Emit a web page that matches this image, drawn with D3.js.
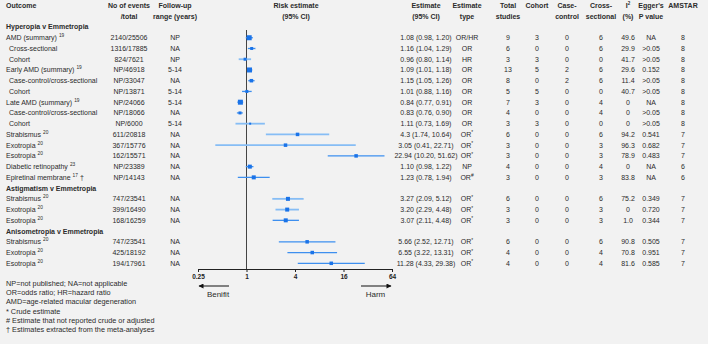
<!DOCTYPE html>
<html>
<head>
<meta charset="utf-8">
<script src="https://cdn.jsdelivr.net/npm/d3@7"></script>
<style>
  body { margin: 0; background: #f2f2f2; }
  svg { display: block; font-family: "Liberation Sans", Arial, sans-serif; }
</style>
</head>
<body>
<div id="chart"></div>
<script>
// group headings and which group each outcome row belongs to
var groups = ["Hyperopia v Emmetropia", "Astigmatism v Emmetropia", "Anisometropia v Emmetropia"];
var groupOf = [0,0,0,0,0,0,0,0,0,0,0,0,0,0, 1,1,1, 2,2,2];

var outcomes = ["AMD (summary)", "Cross-sectional", "Cohort", "Early AMD (summary)",
  "Case-control/cross-sectional", "Cohort", "Late AMD (summary)", "Case-control/cross-sectional",
  "Cohort", "Strabismus", "Exotropia", "Esotropia", "Diabetic retinopathy", "Epiretinal membrane",
  "Strabismus", "Exotropia", "Esotropia",
  "Strabismus", "Exotropia", "Esotropia"];
var refs = ["19", "", "", "19", "", "", "19", "", "", "20", "20", "20", "23", "17",
  "20", "20", "20", "20", "20", "20"];
var daggers = [0,0,0,0,0,0,0,0,0,0,0,0,0,1, 0,0,0, 0,0,0];
var subgroup = [0,1,1,0,1,1,0,1,1,0,0,0,0,0, 0,0,0, 0,0,0];

var events = ["2140/25506", "1316/17885", "824/7621", "NP/46918", "NP/33047", "NP/13871",
  "NP/24066", "NP/18066", "NP/6000", "611/20818", "367/15776", "162/15571", "NP/23389", "NP/14143",
  "747/23541", "399/16490", "168/16259",
  "747/23541", "425/18192", "194/17961"];
var followUp = ["NP", "NA", "NP", "5-14", "NA", "5-14", "5-14", "NA", "5-14", "NA", "NA", "NA", "NA", "NA",
  "NA", "NA", "NA", "NA", "NA", "NA"];

var estimate = ["1.08", "1.16", "0.96", "1.09", "1.15", "1.01", "0.84", "0.83", "1.11", "4.3", "3.05", "22.94", "1.10", "1.23",
  "3.27", "3.20", "3.07", "5.66", "6.55", "11.28"];
var lower = ["0.98", "1.04", "0.80", "1.01", "1.05", "0.88", "0.77", "0.76", "0.73", "1.74", "0.41", "10.20", "0.98", "0.78",
  "2.09", "2.29", "2.11", "2.52", "3.22", "4.33"];
var upper = ["1.20", "1.29", "1.14", "1.18", "1.26", "1.16", "0.91", "0.90", "1.69", "10.64", "22.71", "51.62", "1.22", "1.94",
  "5.12", "4.48", "4.48", "12.71", "13.31", "29.38"];
// relative weight of each estimate (marker size)
var weight = [5, 3, 3, 5, 3.5, 3, 5, 3, 2, 3.5, 3.5, 3.5, 4, 4, 4, 4, 4, 3.5, 3.5, 3.5];

var estType = ["OR/HR", "OR", "HR", "OR", "OR", "OR", "OR", "OR", "OR", "OR*", "OR*", "OR*", "NP", "OR#",
  "OR*", "OR*", "OR*", "OR*", "OR*", "OR*"];
var totalStudies = [9, 6, 3, 13, 8, 5, 7, 4, 3, 6, 3, 3, 4, 3, 6, 3, 3, 6, 4, 4];
var cohort = [3, 0, 3, 5, 0, 5, 3, 0, 3, 0, 0, 0, 0, 0, 0, 0, 0, 0, 0, 0];
var caseControl = [0, 0, 0, 2, 2, 0, 0, 0, 0, 0, 0, 0, 0, 0, 0, 0, 0, 0, 0, 0];
var crossSectional = [6, 6, 0, 6, 6, 0, 4, 4, 0, 6, 3, 3, 4, 3, 6, 3, 3, 6, 4, 4];
var i2 = ["49.6", "29.9", "41.7", "29.6", "11.4", "40.7", "0", "0", "0", "94.2", "96.3", "78.9", "0", "83.8",
  "75.2", "0", "1.0", "90.8", "70.8", "81.6"];
var egger = ["NA", ">0.05", ">0.05", "0.152", ">0.05", ">0.05", "NA", ">0.05", ">0.05", "0.541", "0.682", "0.483", "NA", "NA",
  "0.349", "0.720", "0.344", "0.505", "0.951", "0.585"];
var amstar = [8, 8, 8, 8, 8, 8, 8, 8, 8, 7, 7, 7, 6, 6, 7, 7, 7, 7, 7, 7];

var axisTicks = [0.25, 1, 4, 16, 64];

var footnotes = ["NP=not published; NA=not applicable", "OR=odds ratio; HR=hazard ratio",
  "AMD=age-related macular degeneration", "* Crude estimate",
  "# Estimate that not reported crude or adjusted", "\u2020 Estimates extracted from the meta-analyses"];

// ---- build row list (headings + outcomes)
var rows = [];
outcomes.forEach(function(o, i) {
  if (i == 0 || groupOf[i] != groupOf[i - 1]) rows.push({ heading: groups[groupOf[i]] });
  rows.push({ i: i });
});

var width = 708, height = 344;
var fs = 7;
var textColor = '#2b2b2b';
var blue = '#1a73e8';
var lightCI = [2, 8, 9, 10, 14, 15]; // rows drawn with a paler CI line

var svg = d3.select('#chart').append('svg')
  .attr('width', width)
  .attr('height', height);

svg.append('rect').attr('width', width).attr('height', height).attr('fill', '#f2f2f2');

var y = d3.scalePoint()
  .domain(d3.range(rows.length))
  .range([27, 263.3]);

var x = d3.scaleLog().base(2)
  .domain([0.25, 64])
  .range([198, 392]);

// column centres
var col = {
  events: 129, follow: 175, risk: 296, est: 426, type: 467, total: 508,
  cohort: 537, cc: 567, cross: 601, i2: 628, egger: 651, amstar: 683
};

// ---- headers
function header(lines, cx, anchor) {
  var t = svg.append('text')
    .attr('x', cx).attr('text-anchor', anchor || 'middle')
    .attr('font-size', fs).attr('font-weight', 'bold').attr('fill', textColor);
  lines.forEach(function(l, k) {
    t.append('tspan').attr('x', cx).attr('y', 6 + k * 10.7).attr('dy', '0.35em').text(l);
  });
  return t;
}
header(['Outcome'], 6, 'start');
header(['No of events', '/total'], col.events);
header(['Follow-up', 'range (years)'], col.follow);
header(['Risk estimate', '(95% CI)'], col.risk);
header(['Estimate', '(95% CI)'], col.est);
header(['Estimate', 'type'], col.type);
header(['Total', 'studies'], col.total);
header(['Cohort'], col.cohort);
header(['Case-', 'control'], col.cc);
header(['Cross-', 'sectional'], col.cross);
var ih = header(['', '(%)'], col.i2);
ih.select('tspan').append('tspan').text('I');
ih.select('tspan').append('tspan').attr('font-size', 4.5).attr('dy', -3).text('2');
header(["Egger's", 'P value'], col.egger);
header(['AMSTAR'], col.amstar);

// ---- row text
var g = svg.append('g').attr('font-size', fs).attr('fill', textColor);

rows.forEach(function(r, k) {
  var ry = y(k);
  if (r.heading) {
    g.append('text').attr('x', 6).attr('y', ry).attr('dy', '0.35em')
      .attr('font-weight', 'bold').text(r.heading);
    return;
  }
  var i = r.i;
  var t = g.append('text').attr('x', subgroup[i] ? 9 : 6).attr('y', ry).attr('dy', '0.35em');
  t.append('tspan').text(outcomes[i]);
  if (refs[i]) {
    t.append('tspan').attr('font-size', 4.8).attr('dx', 2).attr('dy', -3).text(refs[i]);
    t.append('tspan').attr('dy', 3).text(daggers[i] ? ' \u2020' : '');
  }

  function cell(cx, v) {
    return g.append('text').attr('x', cx).attr('y', ry).attr('dy', '0.35em')
      .attr('text-anchor', 'middle').text(v);
  }
  cell(col.events, events[i]);
  cell(col.follow, followUp[i]);
  cell(col.est, estimate[i] + ' (' + lower[i] + ', ' + upper[i] + ')');
  var et = estType[i];
  if (et.slice(-1) == '*' || et.slice(-1) == '#') {
    var tt = cell(col.type, '');
    tt.append('tspan').text(et.slice(0, -1));
    tt.append('tspan').attr('font-size', 4.8).attr('dy', -2.5).text(et.slice(-1));
  } else {
    cell(col.type, et);
  }
  cell(col.total, totalStudies[i]);
  cell(col.cohort, cohort[i]);
  cell(col.cc, caseControl[i]);
  cell(col.cross, crossSectional[i]);
  cell(col.i2, i2[i]);
  cell(col.egger, egger[i]);
  cell(col.amstar, amstar[i]);
});

// ---- forest plot
svg.append('line')
  .attr('x1', x(1)).attr('x2', x(1))
  .attr('y1', 30).attr('y2', 269)
  .attr('stroke', '#444').attr('stroke-width', 1);

var plotRows = rows.map(function(r, k) { return { i: r.i, k: k, heading: r.heading }; })
  .filter(function(r) { return !r.heading; });

svg.append('g').selectAll('line')
  .data(plotRows)
  .enter()
  .append('line')
  .attr('x1', function(d) { return x(+lower[d.i]); })
  .attr('x2', function(d) { return x(+upper[d.i]); })
  .attr('y1', function(d) { return y(d.k); })
  .attr('y2', function(d) { return y(d.k); })
  .attr('stroke', function(d) { return lightCI.indexOf(d.i) >= 0 ? '#86bdf5' : '#3d8fef'; })
  .attr('stroke-width', function(d) { return lightCI.indexOf(d.i) >= 0 ? 1.8 : 1.3; });

svg.append('g').selectAll('rect')
  .data(plotRows)
  .enter()
  .append('rect')
  .attr('x', function(d) { return x(+estimate[d.i]) - weight[d.i] / 2; })
  .attr('y', function(d) { return y(d.k) - weight[d.i] / 2; })
  .attr('width', function(d) { return weight[d.i]; })
  .attr('height', function(d) { return weight[d.i]; })
  .attr('fill', blue);

// ---- axis
var axis = svg.append('g')
  .attr('transform', 'translate(0,269)')
  .call(d3.axisBottom(x).tickValues(axisTicks).tickFormat(function(d) { return d; })
    .tickSize(3).tickSizeOuter(0));
axis.select('.domain').attr('stroke', '#222');
axis.selectAll('.tick line').attr('stroke', '#222');
axis.selectAll('.tick text')
  .attr('font-family', '"Liberation Sans", Arial, sans-serif')
  .attr('font-size', 6.5).attr('font-weight', 'bold').attr('fill', '#222')
  .attr('y', 5);

// ---- benefit / harm arrows
var defs = svg.append('defs');
defs.append('marker').attr('id', 'arrow')
  .attr('viewBox', '0 0 10 10').attr('refX', 9).attr('refY', 5)
  .attr('markerWidth', 6).attr('markerHeight', 5).attr('orient', 'auto')
  .append('path').attr('d', 'M0,0L10,5L0,10z').attr('fill', '#111');

svg.append('line').attr('x1', 229).attr('x2', x(0.25) + 1).attr('y1', 286).attr('y2', 286)
  .attr('stroke', '#111').attr('stroke-width', 1).attr('marker-end', 'url(#arrow)');
svg.append('line').attr('x1', 361).attr('x2', x(64) - 1).attr('y1', 286).attr('y2', 286)
  .attr('stroke', '#111').attr('stroke-width', 1).attr('marker-end', 'url(#arrow)');
svg.append('text').attr('x', 218).attr('y', 294).attr('dy', '0.35em').attr('text-anchor', 'middle')
  .attr('font-size', 8).attr('fill', textColor).text('Benifit');
svg.append('text').attr('x', 375.5).attr('y', 294).attr('dy', '0.35em').attr('text-anchor', 'middle')
  .attr('font-size', 8).attr('fill', textColor).text('Harm');

// ---- footnotes
svg.append('g').selectAll('text')
  .data(footnotes)
  .enter()
  .append('text')
  .attr('x', 6)
  .attr('y', function(d, i) { return 283.7 + i * 9.1; })
  .attr('dy', '0.35em')
  .attr('font-size', 7.3)
  .attr('fill', textColor)
  .text(function(d) { return d; });
</script>
</body>
</html>
